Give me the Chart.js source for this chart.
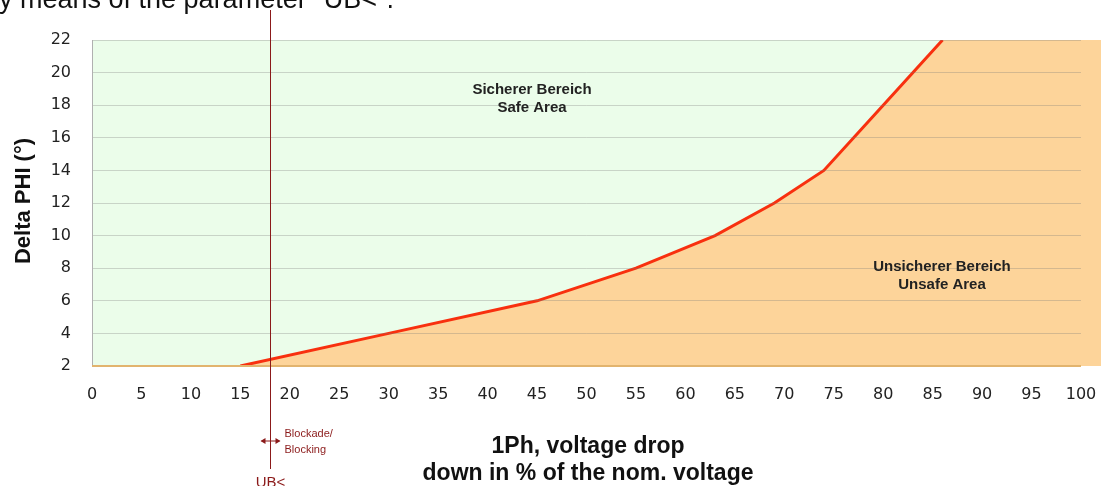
<!DOCTYPE html>
<html>
<head>
<meta charset="utf-8">
<script src="https://cdn.jsdelivr.net/npm/chart.js@4/dist/chart.umd.min.js"></script>
<style>
  html, body { margin: 0; padding: 0; background: #fff; }
  #wrap { width: 1101px; height: 486px; }
</style>
</head>
<body>
<div id="wrap"><canvas id="c" width="1101" height="486"></canvas></div>
<script>
// curve of the boundary
const dropPct = [15, 30, 45, 55, 63, 69, 74, 80, 86];
const deltaPhi = [2, 4, 6, 8, 10, 12, 14, 18, 22];
const xTicks = [0, 5, 10, 15, 20, 25, 30, 35, 40, 45, 50, 55, 60, 65, 70, 75, 80, 85, 90, 95, 100];
const yTicks = [2, 4, 6, 8, 10, 12, 14, 16, 18, 20, 22];
const ubLimit = 18;

const curve = dropPct.map((x, i) => ({ x: x, y: deltaPhi[i] }));
// unsafe area keeps going at the top to the right edge
const unsafe = curve.concat([{ x: xTicks[xTicks.length - 1], y: yTicks[yTicks.length - 1] }]);

const FONT = "'Liberation Sans', Arial, sans-serif";
const TICKFONT = "'DejaVu Sans', sans-serif";
const DARKRED = "#8b1a1a";

// green backdrop + all the extra text
const extras = {
  id: "extras",
  beforeDatasetsDraw(chart) {
    const { ctx, chartArea: a } = chart;
    ctx.save();
    ctx.fillStyle = "#ebfdea";
    ctx.fillRect(a.left, a.top, a.right - a.left, a.bottom - a.top);
    // orange spills past the right edge of the plot
    ctx.fillStyle = "#fdd49a";
    ctx.fillRect(a.right, a.top, chart.width - a.right, a.bottom - a.top);
    ctx.restore();
  },
  afterDraw(chart) {
    const { ctx, chartArea: a } = chart;
    const xs = chart.scales.x;
    ctx.save();

    // left border + tan baseline
    ctx.strokeStyle = "#b0b0b0";
    ctx.lineWidth = 1;
    ctx.beginPath();
    ctx.moveTo(a.left + 0.5, a.top);
    ctx.lineTo(a.left + 0.5, a.bottom);
    ctx.stroke();
    ctx.strokeStyle = "#e2b46e";
    ctx.lineWidth = 2;
    ctx.beginPath();
    ctx.moveTo(a.left, a.bottom);
    ctx.lineTo(a.right, a.bottom);
    ctx.stroke();

    // UB< line
    const ux = Math.round(xs.getPixelForValue(ubLimit)) + 0.5;
    ctx.strokeStyle = DARKRED;
    ctx.lineWidth = 1;
    ctx.beginPath();
    ctx.moveTo(ux, 10);
    ctx.lineTo(ux, 469);
    ctx.stroke();

    // arrow <->
    ctx.beginPath();
    ctx.moveTo(ux - 9, 441);
    ctx.lineTo(ux + 9, 441);
    ctx.stroke();
    ctx.fillStyle = DARKRED;
    ctx.beginPath();
    ctx.moveTo(ux - 10, 441); ctx.lineTo(ux - 5, 438); ctx.lineTo(ux - 5, 444); ctx.fill();
    ctx.beginPath();
    ctx.moveTo(ux + 10, 441); ctx.lineTo(ux + 5, 438); ctx.lineTo(ux + 5, 444); ctx.fill();

    ctx.font = "11px " + FONT;
    ctx.textAlign = "left";
    ctx.textBaseline = "alphabetic";
    ctx.fillText("Blockade/", ux + 14, 437);
    ctx.fillText("Blocking", ux + 14, 453);
    ctx.font = "15px " + FONT;
    ctx.textAlign = "center";
    ctx.fillText("UB<", ux, 487);

    // top caption, clipped
    ctx.fillStyle = "#111";
    ctx.font = "27px " + FONT;
    ctx.textAlign = "left";
    ctx.fillText("y means of the parameter \"UB<\".", -1, 8);

    // area labels
    ctx.fillStyle = "#222";
    ctx.font = "bold 15px " + FONT;
    ctx.textAlign = "center";
    ctx.fillText("Sicherer Bereich", 532, 94);
    ctx.fillText("Safe Area", 532, 112);
    ctx.fillText("Unsicherer Bereich", 942, 271);
    ctx.fillText("Unsafe Area", 942, 289);

    // axis titles
    ctx.fillStyle = "#111";
    ctx.font = "bold 23px " + FONT;
    ctx.fillText("1Ph, voltage drop", 588, 453);
    ctx.fillText("down in % of the nom. voltage", 588, 480);
    ctx.save();
    ctx.translate(30, 201);
    ctx.rotate(-Math.PI / 2);
    ctx.font = "bold 22px " + FONT;
    ctx.fillText("Delta PHI (\u00b0)", 0, 0);
    ctx.restore();

    ctx.restore();
  }
};

new Chart(document.getElementById("c"), {
  type: "line",
  data: {
    datasets: [
      {
        data: curve,
        borderColor: "#f8300f",
        borderWidth: 3,
        pointRadius: 0,
        fill: false,
        tension: 0
      },
      {
        data: unsafe,
        borderWidth: 0,
        borderColor: "rgba(0,0,0,0)",
        backgroundColor: "#fdd49a",
        pointRadius: 0,
        fill: "start",
        tension: 0
      }
    ]
  },
  options: {
    responsive: false,
    animation: false,
    events: [],
    layout: { padding: { left: 0, top: 40, right: 20, bottom: 0 } },
    plugins: { legend: { display: false }, tooltip: { enabled: false } },
    scales: {
      x: {
        type: "linear",
        min: 0,
        max: 100,
        afterBuildTicks: s => { s.ticks = xTicks.map(v => ({ value: v })); },
        afterFit: s => { s.height = 120; s.paddingLeft = 0; s.paddingRight = 0; },
        grid: { display: false },
        border: { display: false },
        ticks: { color: "#222", font: { family: TICKFONT, size: 16 }, padding: 11, maxRotation: 0 }
      },
      y: {
        min: 2,
        max: 22,
        afterBuildTicks: s => { s.ticks = yTicks.map(v => ({ value: v })); },
        afterFit: s => { s.width = 92; s.paddingTop = 0; s.paddingBottom = 0; },
        grid: { color: "rgba(120,120,120,0.3)", drawTicks: false, z: 1 },
        border: { display: false },
        ticks: { color: "#222", font: { family: TICKFONT, size: 16 }, padding: 21 }
      }
    }
  },
  plugins: [extras]
});
</script>
</body>
</html>
